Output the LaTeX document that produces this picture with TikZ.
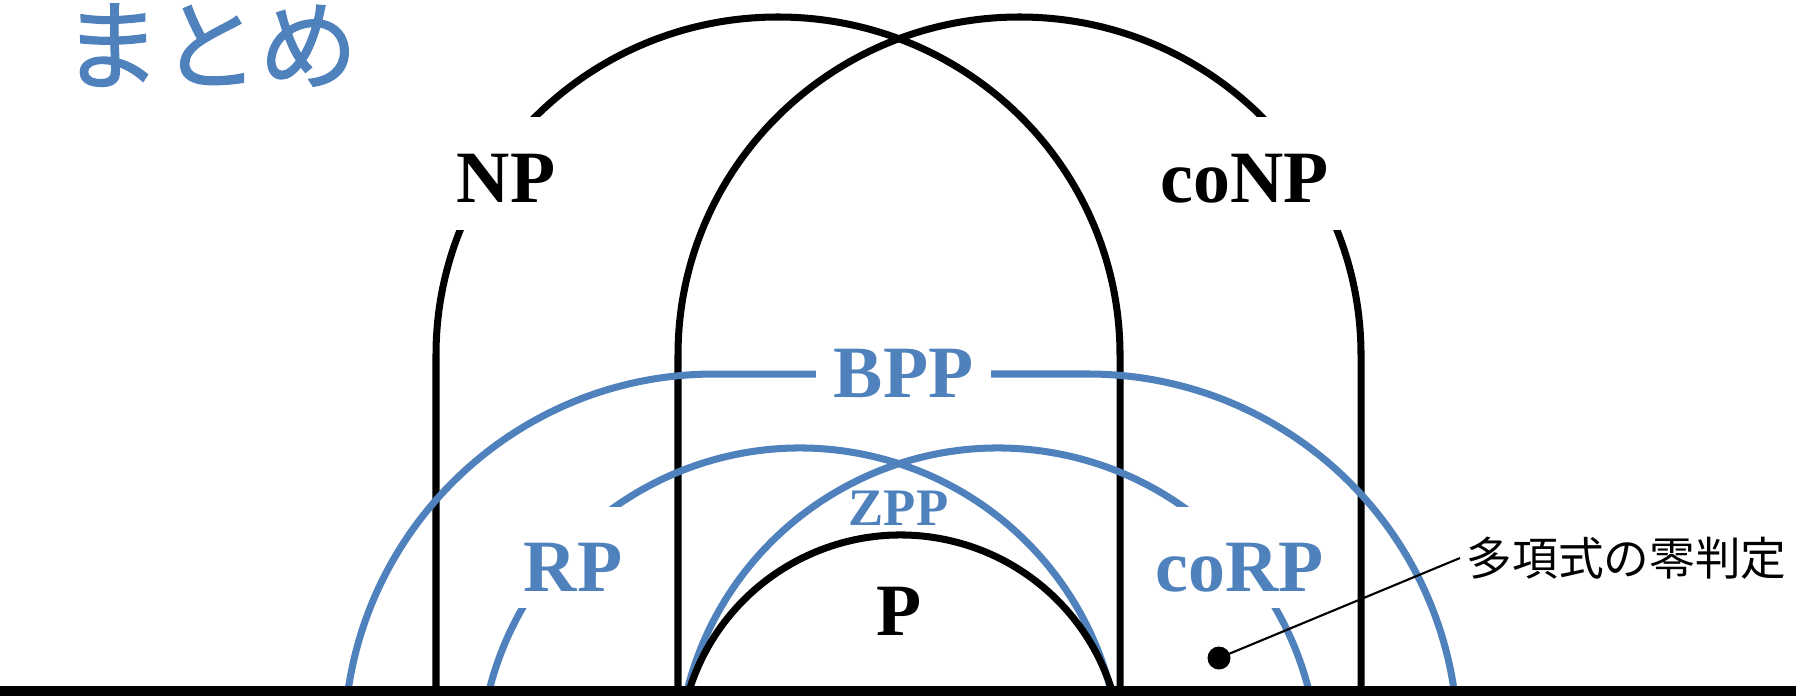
\documentclass[tikz,border=0pt]{standalone}
\usepackage{fontspec}
\setmainfont{Liberation Serif}
\newfontfamily\jpfont{Noto Sans CJK JP}
\newfontfamily\jptitle{Noto Sans CJK JP}[FakeBold=1.3]
\definecolor{ppt}{RGB}{79,129,189}
\begin{document}
\begin{tikzpicture}[cls/.style={line width=2.0pt},
        rnd/.style={ppt,line width=2.0pt},
        lab/.style={fill=white,inner sep=0pt,inner xsep=0.15cm,anchor=base,font=\fontsize{21}{21}\selectfont\bfseries},
        dot/.style={circle,fill=black,inner sep=0pt,minimum size=0.23cm}]
    \useasboundingbox (0,0) rectangle (17.96,6.95);
    % NP, coNP
    \draw[cls] (4.36,0.04) -- (4.36,3.40)
        arc[start angle=180,end angle=0,x radius=3.42,y radius=3.38] -- (11.20,0.04);
    \draw[cls] (6.78,0.04) -- (6.78,3.40)
        arc[start angle=180,end angle=0,x radius=3.415,y radius=3.38] -- (13.61,0.04);
    % BPP
    \draw[rnd] (3.48,0.04) arc[start angle=171.76,end angle=90,radius=3.70]
        -- (10.88,3.21) arc[start angle=90,end angle=8.24,radius=3.70];
    % RP, coRP
    \draw[rnd] (4.89,0.04) arc[start angle=166,end angle=14,radius=3.205];
    \draw[rnd] (6.87,0.04) arc[start angle=166,end angle=14,radius=3.205];
    % P
    \draw[cls] (6.89,0.04) arc[start angle=162.82,end angle=17.18,radius=2.214];
    \draw[line width=2.6pt] (0,0.04) -- (17.96,0.04);
    %labels
    \node[lab,text height=0.85cm,text depth=0.28cm,inner xsep=0.12cm] (np) at (5.06,4.93) {NP};
    \node[lab,text height=0.85cm,text depth=0.28cm,inner xsep=0.12cm] (conp) at (12.45,4.93) {coNP};
    \node[lab,text=ppt,text height=0.55cm,text depth=0.1cm,inner xsep=0.18cm] (bpp) at (9.035,2.98) {BPP};
    \node[lab,text=ppt,text height=0.84cm,text depth=0.17cm] (rp) at (5.73,1.04) {RP};
    \node[lab,text=ppt,text height=0.84cm,text depth=0.17cm] (corp) at (12.40,1.04) {coRP};
    \node[text=ppt,anchor=base,font=\fontsize{15}{15}\selectfont\bfseries] (zpp) at (8.985,1.70) {ZPP};
    \node[anchor=base,font=\fontsize{21}{21}\selectfont\bfseries] (p) at (8.99,0.60) {P};
    \node[dot] (zero) at (12.19,0.37) {};
    \node[anchor=west,inner sep=0pt,inner xsep=0.06cm,font=\jpfont\fontsize{13}{13}\selectfont] (pit) at (14.60,1.37) {多項式の零判定};
    \draw[line width=0.6pt] (zero.center) -- (pit.west);
    \node[text=ppt,anchor=base,font=\jptitle\fontsize{28}{28}\selectfont] (title) at (2.10,6.13) {まとめ};
\end{tikzpicture}
\end{document}
